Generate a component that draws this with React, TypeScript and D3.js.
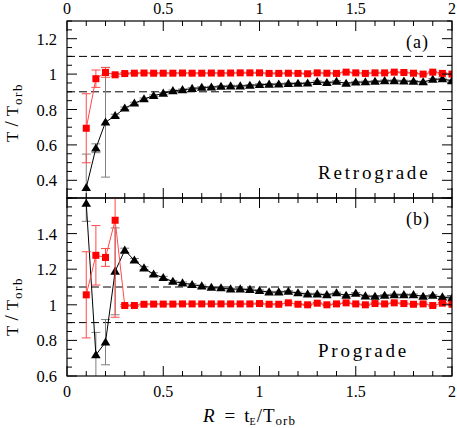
import React from 'react';
import * as d3 from 'd3';

const R_VALUES = [0.1, 0.15, 0.2, 0.25, 0.3, 0.35, 0.4, 0.45, 0.5, 0.55, 0.6, 0.65, 0.7, 0.75, 0.8, 0.85, 0.9, 0.95, 1.0, 1.05, 1.1, 1.15, 1.2, 1.25, 1.3, 1.35, 1.4, 1.45, 1.5, 1.55, 1.6, 1.65, 1.7, 1.75, 1.8, 1.85, 1.9, 1.95, 2.0];

const RETRO_RED = [0.694, 0.974, 1.009, 0.996, 1.003, 1.005, 1.006, 1.005, 1.005, 1.005, 1.006, 1.005, 1.005, 1.006, 1.005, 1.006, 1.007, 1.007, 1.007, 1.004, 1.004, 1.005, 1.004, 1.002, 1.007, 1.005, 1.004, 1.011, 1.007, 1.004, 1.007, 1.007, 1.011, 1.009, 1.005, 1.0, 1.011, 1.004, 1.0];
const RETRO_RED_ERR = [0.195, 0.049, 0.027, 0.008, 0.005, 0.004, 0.004, 0.004, 0.004, 0.004, 0.004, 0.004, 0.004, 0.004, 0.004, 0.004, 0.004, 0.004, 0.004, 0.004, 0.004, 0.004, 0.004, 0.004, 0.004, 0.004, 0.004, 0.004, 0.004, 0.004, 0.004, 0.004, 0.004, 0.004, 0.004, 0.004, 0.004, 0.004, 0.004];
const RETRO_BLACK = [0.358, 0.581, 0.728, 0.765, 0.807, 0.835, 0.859, 0.878, 0.891, 0.905, 0.911, 0.918, 0.924, 0.926, 0.93, 0.932, 0.932, 0.936, 0.94, 0.942, 0.943, 0.946, 0.947, 0.948, 0.957, 0.951, 0.958, 0.947, 0.954, 0.955, 0.958, 0.962, 0.962, 0.96, 0.959, 0.955, 0.97, 0.972, 0.962];
const RETRO_BLACK_ERR = [0.19, 0.025, 0.31, 0.008, 0.007, 0.006, 0.006, 0.005, 0.005, 0.005, 0.005, 0.005, 0.005, 0.005, 0.005, 0.005, 0.005, 0.005, 0.005, 0.005, 0.005, 0.005, 0.005, 0.005, 0.005, 0.005, 0.005, 0.005, 0.005, 0.005, 0.005, 0.005, 0.005, 0.005, 0.005, 0.005, 0.005, 0.005, 0.005];

const PRO_RED = [1.056, 1.278, 1.266, 1.475, 0.996, 0.996, 1.003, 1.004, 1.004, 1.004, 1.005, 1.005, 1.005, 1.005, 1.005, 1.005, 1.005, 1.005, 1.007, 1.003, 1.003, 1.011, 1.003, 1.0, 1.009, 1.0, 1.005, 1.011, 1.005, 1.0, 1.007, 1.005, 1.011, 1.007, 1.003, 1.005, 0.996, 1.009, 1.003];
const PRO_RED_ERR = [0.242, 0.167, 0.05, 0.545, 0.006, 0.005, 0.004, 0.004, 0.004, 0.004, 0.004, 0.004, 0.004, 0.004, 0.004, 0.004, 0.004, 0.004, 0.004, 0.004, 0.004, 0.004, 0.004, 0.004, 0.004, 0.004, 0.004, 0.004, 0.004, 0.004, 0.004, 0.004, 0.004, 0.004, 0.004, 0.004, 0.004, 0.004, 0.004];
const PRO_BLACK = [1.569, 0.718, 0.79, 1.188, 1.306, 1.25, 1.206, 1.172, 1.152, 1.131, 1.122, 1.113, 1.105, 1.097, 1.094, 1.088, 1.088, 1.085, 1.079, 1.071, 1.071, 1.075, 1.066, 1.06, 1.06, 1.056, 1.066, 1.052, 1.064, 1.049, 1.047, 1.052, 1.056, 1.056, 1.056, 1.047, 1.052, 1.043, 1.037];
const PRO_BLACK_ERR = [0.1, 0.127, 0.127, 0.244, 0.012, 0.01, 0.008, 0.008, 0.008, 0.006, 0.006, 0.006, 0.006, 0.005, 0.005, 0.005, 0.005, 0.005, 0.005, 0.005, 0.005, 0.005, 0.005, 0.005, 0.005, 0.005, 0.005, 0.005, 0.005, 0.005, 0.005, 0.005, 0.005, 0.005, 0.005, 0.005, 0.005, 0.005, 0.005];

const X_TICKS = [0, 0.5, 1, 1.5, 2];
const X_TICK_LABELS = ['0', '0.5', '1', '1.5', '2'];
const RETRO_Y_TICKS = [0.4, 0.6, 0.8, 1, 1.2];
const RETRO_Y_LABELS = ['0.4', '0.6', '0.8', '1', '1.2'];
const PRO_Y_TICKS = [0.6, 0.8, 1, 1.2, 1.4];
const PRO_Y_LABELS = ['0.6', '0.8', '1', '1.2', '1.4'];
const REF_LINES = [0.9, 1.1];

const W = 457;
const H = 428;
const LEFT = 67;
const RIGHT = 452;
const FONT = '"Liberation Serif", "Times New Roman", serif';

const x = d3.scaleLinear().domain([0, 2]).range([LEFT, RIGHT]);

const RED = '#ff0000';
const RED_LIGHT = '#ff4a4a';
const GRAY = '#808080';

type PanelProps = {
  id: string;
  top: number;
  bottom: number;
  domain: [number, number];
  red: number[];
  redErr: number[];
  black: number[];
  blackErr: number[];
  yTicks: number[];
  yLabels: string[];
  tag: string;
  tagY: number;
  name: string;
  nameY: number;
};

function Panel(p: PanelProps) {
  const y = d3.scaleLinear().domain(p.domain).range([p.bottom, p.top]);
  const line = d3.line<number>().x((_, i) => x(R_VALUES[i])).y((d) => y(d));
  const minorX = d3.range(0, 2.0001, 0.1);
  const minorY = d3.range(p.domain[0], p.domain[1] + 0.0001, 0.05);
  const isMajorX = (v: number) => Math.abs(v * 2 - Math.round(v * 2)) < 1e-6;
  const isMajorY = (v: number) => Math.abs(v * 5 - Math.round(v * 5)) < 1e-6;
  const tri = 'M0,-4.8L4.8,3.3L-4.8,3.3Z';
  const cap = 4.5;

  const errBars = (vals: number[], errs: number[], color: string) =>
    vals.map((v, i) => {
      const cx = x(R_VALUES[i]);
      const y1 = y(v + errs[i]);
      const y2 = y(v - errs[i]);
      return (
        <g key={i} stroke={color} strokeWidth={1}>
          <line x1={cx} x2={cx} y1={y1} y2={y2} />
          <line x1={cx - cap} x2={cx + cap} y1={y1} y2={y1} />
          <line x1={cx - cap} x2={cx + cap} y1={y2} y2={y2} />
        </g>
      );
    });

  return (
    <g>
      <defs>
        <clipPath id={p.id}>
          <rect x={LEFT} y={p.top} width={RIGHT - LEFT} height={p.bottom - p.top} />
        </clipPath>
      </defs>
      {REF_LINES.map((r) => (
        <line key={r} x1={LEFT} x2={RIGHT} y1={y(r)} y2={y(r)} stroke="#000" strokeWidth={1} strokeDasharray="8,4" />
      ))}
      <g clipPath={`url(#${p.id})`}>
        {errBars(p.black, p.blackErr, GRAY)}
        <path d={line(p.black) || ''} fill="none" stroke="#000" strokeWidth={1} />
        {p.black.map((v, i) => (
          <path key={i} d={tri} transform={`translate(${x(R_VALUES[i])},${y(v)})`} fill="#000" />
        ))}
        {errBars(p.red, p.redErr, RED_LIGHT)}
        <path d={line(p.red) || ''} fill="none" stroke={RED_LIGHT} strokeWidth={1} />
        {p.red.map((v, i) => (
          <rect key={i} x={x(R_VALUES[i]) - 3.5} y={y(v) - 3.5} width={7} height={7} fill={RED} />
        ))}
      </g>
      <g stroke="#000" strokeWidth={1}>
        {minorX.map((v, i) => {
          const len = isMajorX(v) ? 10 : 5;
          return (
            <g key={'x' + i}>
              <line x1={x(v)} x2={x(v)} y1={p.bottom} y2={p.bottom - len} />
              <line x1={x(v)} x2={x(v)} y1={p.top} y2={p.top + len} />
            </g>
          );
        })}
        {minorY.map((v, i) => {
          const len = isMajorY(v) ? 10 : 5;
          return (
            <g key={'y' + i}>
              <line x1={LEFT} x2={LEFT + len} y1={y(v)} y2={y(v)} />
              <line x1={RIGHT} x2={RIGHT - len} y1={y(v)} y2={y(v)} />
            </g>
          );
        })}
      </g>
      <rect x={LEFT} y={p.top} width={RIGHT - LEFT} height={p.bottom - p.top} fill="none" stroke="#000" strokeWidth={1.2} />
      <g fontFamily={FONT} fontSize={16.5} fill="#000" textAnchor="end">
        {p.yTicks.map((v, i) => (
          <text key={i} x={57} y={y(v) + 6}>{p.yLabels[i]}</text>
        ))}
      </g>
      <text x={406} y={p.tagY} fontFamily={FONT} fontSize={18} letterSpacing={1}>{p.tag}</text>
      <text x={318} y={p.nameY} fontFamily={FONT} fontSize={19} letterSpacing={2.8}>{p.name}</text>
    </g>
  );
}

function YLabel({ cx, startY }: { cx: number; startY: number }) {
  return (
    <text
      transform={`translate(${cx},${startY}) rotate(-90)`}
      fontFamily={FONT}
      fontSize={17}
      fill="#000"
    >
      <tspan>T</tspan>
      <tspan dx={5} fontSize={19}>/</tspan>
      <tspan dx={5}>T</tspan>
      <tspan dx={1} dy={4} fontSize={13} letterSpacing={1.5}>orb</tspan>
    </text>
  );
}

export default function App() {
  return (
    <svg width={W} height={H} style={{ position: 'absolute', left: 0, top: 0, background: '#fff' }}>
      <Panel
        id="clipA"
        top={21}
        bottom={198}
        domain={[0.3, 1.3]}
        red={RETRO_RED}
        redErr={RETRO_RED_ERR}
        black={RETRO_BLACK}
        blackErr={RETRO_BLACK_ERR}
        yTicks={RETRO_Y_TICKS}
        yLabels={RETRO_Y_LABELS}
        tag="(a)"
        tagY={48}
        name="Retrograde"
        nameY={179}
      />
      <Panel
        id="clipB"
        top={198}
        bottom={376}
        domain={[0.6, 1.6]}
        red={PRO_RED}
        redErr={PRO_RED_ERR}
        black={PRO_BLACK}
        blackErr={PRO_BLACK_ERR}
        yTicks={PRO_Y_TICKS}
        yLabels={PRO_Y_LABELS}
        tag="(b)"
        tagY={225}
        name="Prograde"
        nameY={357}
      />
      <g fontFamily={FONT} fontSize={16} fill="#000" textAnchor="middle">
        {X_TICKS.map((v, i) => (
          <text key={'t' + i} x={x(v)} y={14}>{X_TICK_LABELS[i]}</text>
        ))}
        {X_TICKS.map((v, i) => (
          <text key={'b' + i} x={x(v)} y={397}>{X_TICK_LABELS[i]}</text>
        ))}
      </g>
      <YLabel cx={18} startY={142} />
      <YLabel cx={18} startY={336} />
      <text x={203} y={422} fontFamily={FONT} fontSize={19} fill="#000">
        <tspan fontStyle="italic">R</tspan>
        <tspan dx={10}>=</tspan>
        <tspan dx={9}>t</tspan>
        <tspan dy={3} fontSize={10}>E</tspan>
        <tspan dy={-3} dx={1}>/</tspan>
        <tspan dx={1}>T</tspan>
        <tspan dy={3} dx={1} fontSize={13} letterSpacing={1}>orb</tspan>
      </text>
    </svg>
  );
}
